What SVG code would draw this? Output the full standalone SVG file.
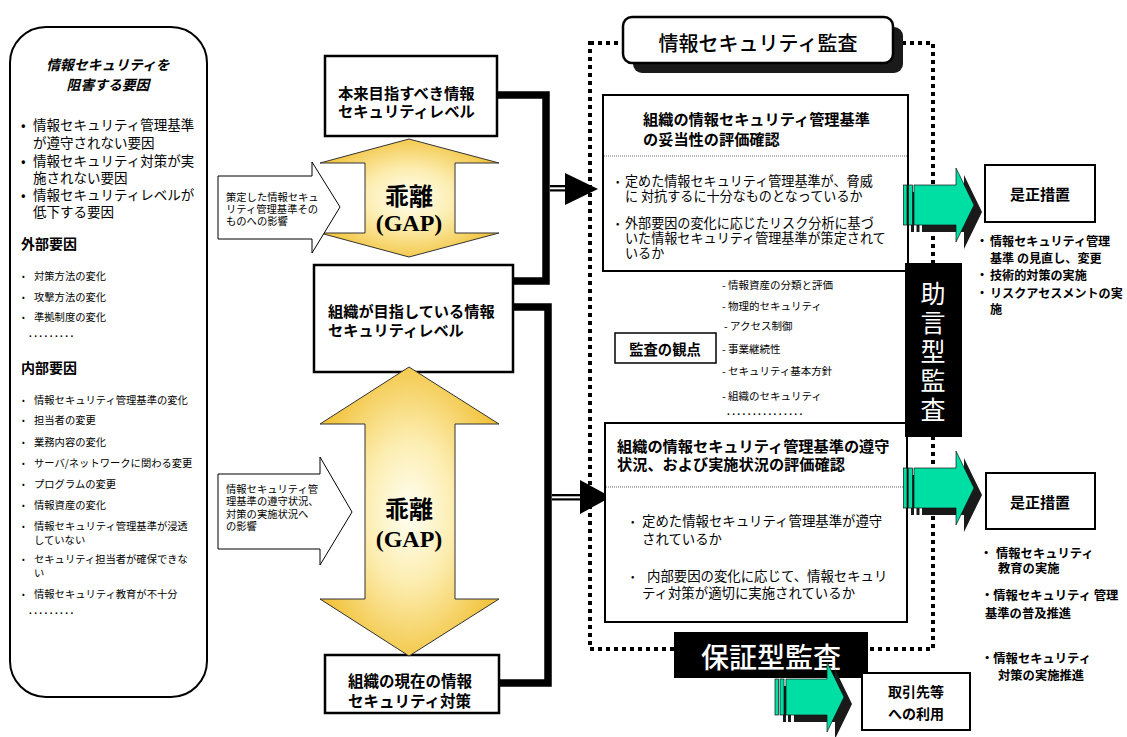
<svg xmlns="http://www.w3.org/2000/svg" width="1127" height="737" viewBox="0 0 1127 737">
<defs>
<style>
text{font-family:"Noto Sans CJK JP","Noto Sans",sans-serif;dominant-baseline:central;fill:#000}
.b{font-weight:bold}
.box{fill:#fff;stroke:#000;stroke-width:2.5}
.rbox{fill:#fff;stroke:#000;stroke-width:2}
.s10{font-size:10.3px}
.s13{font-size:13.5px}
.hd{font-size:15.2px;font-weight:bold}
.conn{fill:none;stroke:#000;stroke-width:7.5;stroke-linejoin:miter}
.sep{stroke:#666;stroke-width:1;stroke-dasharray:1 1}
.green{fill:#00DFA3;stroke:#111;stroke-width:0.7}
.shadow{fill:#1a1a1a}
.gap{font-size:24px;font-weight:bold}
.gapl{font-family:"Liberation Serif",serif;font-size:24px;font-weight:bold}
.dots{font-family:"Liberation Sans",sans-serif;font-size:10px;font-weight:bold;letter-spacing:2.4px}
.wt{fill:#fff}
</style>
<radialGradient id="yg" cx="0.5" cy="0.5" r="0.55">
<stop offset="0" stop-color="#FFFFF4"/>
<stop offset="0.45" stop-color="#FCEDB0"/>
<stop offset="1" stop-color="#F2C33C"/>
</radialGradient>
<path id="garrow" d="M0,-20 H42 V-37 L60,0 L42,37 V20 H0 Z"/>
</defs>

<!-- Left panel -->
<g id="left-panel">
<rect x="10" y="27" width="197" height="670" rx="36" ry="36" fill="#fff" stroke="#000" stroke-width="2"/>
<text class="b" x="108" y="64" font-size="13.8" font-style="italic" text-anchor="middle">情報セキュリティを</text>
<text class="b" x="108" y="84" font-size="13.8" font-style="italic" text-anchor="middle">阻害する要因</text>
<g class="s13">
<text x="21" y="124">•</text><text x="33" y="124">情報セキュリティ管理基準</text>
<text x="33" y="142">が遵守されない要因</text>
<text x="21" y="160">•</text><text x="33" y="160">情報セキュリティ対策が実</text>
<text x="33" y="177">施されない要因</text>
<text x="21" y="194">•</text><text x="33" y="194">情報セキュリティレベルが</text>
<text x="33" y="211">低下する要因</text>
</g>
<text class="b" x="21" y="243" font-size="14">外部要因</text>
<g class="s10">
<text x="22" y="275" font-size="8">•</text><text x="34" y="275">対策方法の変化</text>
<text x="22" y="296" font-size="8">•</text><text x="34" y="296">攻撃方法の変化</text>
<text x="22" y="316" font-size="8">•</text><text x="34" y="316">準拠制度の変化</text>
</g>
<text class="dots" x="29" y="333">.........</text>
<text class="b" x="21" y="367" font-size="14">内部要因</text>
<g class="s10">
<text x="22" y="399" font-size="8">•</text><text x="34" y="399">情報セキュリティ管理基準の変化</text>
<text x="22" y="419" font-size="8">•</text><text x="34" y="419">担当者の変更</text>
<text x="22" y="441" font-size="8">•</text><text x="34" y="441">業務内容の変化</text>
<text x="22" y="462" font-size="8">•</text><text x="34" y="462">サーバ/ネットワークに関わる変更</text>
<text x="22" y="483" font-size="8">•</text><text x="34" y="483">プログラムの変更</text>
<text x="22" y="504" font-size="8">•</text><text x="34" y="504">情報資産の変化</text>
<text x="22" y="525" font-size="8">•</text><text x="34" y="525">情報セキュリティ管理基準が浸透</text>
<text x="34" y="539">していない</text>
<text x="22" y="558" font-size="8">•</text><text x="34" y="558">セキュリティ担当者が確保できな</text>
<text x="34" y="572">い</text>
<text x="22" y="593" font-size="8">•</text><text x="34" y="593">情報セキュリティ教育が不十分</text>
</g>
<text class="dots" x="29" y="610">.........</text>
</g>

<!-- Right panel dotted frame -->
<g id="audit-frame">
<rect x="590" y="43" width="343" height="606" fill="none" stroke="#000" stroke-width="4" stroke-dasharray="4 4"/>
<rect x="633" y="27" width="270" height="46" rx="9" class="shadow"/>
<rect x="623" y="17" width="270" height="46" rx="9" fill="#fff" stroke="#000" stroke-width="2.5"/>
<text x="758" y="42" font-size="20" font-weight="500" text-anchor="middle">情報セキュリティ監査</text>
</g>

<!-- Connectors -->
<g id="connectors">
<polyline class="conn" points="497,95 546,95 546,281 513,281"/>
<polyline class="conn" points="513,307 548,307 548,683 499,683"/>
<rect x="550" y="185" width="17" height="6.5" fill="#000"/>
<rect x="550" y="187.3" width="17" height="2" fill="#fff"/>
<polygon points="565,173 598,189 565,205" fill="#000"/>
<rect x="552" y="494" width="30" height="6.5" fill="#000"/>
<rect x="552" y="496.3" width="30" height="2" fill="#fff"/>
<polygon points="580,480 611,497 580,514" fill="#000"/>
</g>

<!-- Center boxes -->
<g id="target-level">
<rect class="box" x="325" y="56" width="172" height="80"/>
<text class="b" x="338" y="92" font-size="15.3">本来目指すべき情報</text>
<text class="b" x="338" y="110" font-size="15.3">セキュリティレベル</text>
</g>
<g id="org-level">
<rect class="box" x="314" y="265" width="199" height="107"/>
<text class="b" x="328" y="310" font-size="15.2">組織が目指している情報</text>
<text class="b" x="328" y="329" font-size="15.2">セキュリティレベル</text>
</g>
<g id="current-measures">
<rect class="box" x="325" y="655" width="174" height="58"/>
<text class="b" x="348" y="680" font-size="15.5">組織の現在の情報</text>
<text class="b" x="348" y="700" font-size="15.5">セキュリティ対策</text>
</g>

<!-- GAP arrows -->
<g id="gap1">
<path d="M409,139 L499,163 L455,163 L455,233 L499,233 L409,257 L320,233 L365,233 L365,163 L320,163 Z" fill="url(#yg)" stroke="#333" stroke-width="1"/>
<text class="gap" x="409" y="194" text-anchor="middle">乖離</text>
<text class="gapl" x="409" y="223" text-anchor="middle">(GAP)</text>
</g>
<g id="gap2">
<path d="M409,367 L499,424 L455,424 L455,599 L499,599 L409,656 L320,599 L365,599 L365,424 L320,424 Z" fill="url(#yg)" stroke="#333" stroke-width="1"/>
<text class="gap" x="409" y="507" text-anchor="middle">乖離</text>
<text class="gapl" x="409" y="539" text-anchor="middle">(GAP)</text>
</g>

<!-- Callout arrows -->
<g id="impact1">
<path d="M218,176 L312,176 L312,162 L340,207 L312,253 L312,239 L218,239 Z" fill="#fff" stroke="#000" stroke-width="1"/>
<text class="s10" x="226" y="196">策定した情報セキュ</text>
<text class="s10" x="226" y="208">リティ管理基準その</text>
<text class="s10" x="226" y="220">ものへの影響</text>
</g>
<g id="impact2">
<path d="M218,474 L320,474 L320,457 L352,512 L320,565 L320,549 L218,549 Z" fill="#fff" stroke="#000" stroke-width="1"/>
<text class="s10" x="226" y="488">情報セキュリティ管</text>
<text class="s10" x="226" y="500">理基準の遵守状況、</text>
<text class="s10" x="226" y="513">対策の実施状況へ</text>
<text class="s10" x="226" y="525">の影響</text>
</g>

<!-- Validity evaluation box -->
<g id="validity-eval">
<rect class="rbox" x="603" y="95" width="305" height="176"/>
<text class="hd" x="643" y="118">組織の情報セキュリティ管理基準</text>
<text class="hd" x="643" y="138">の妥当性の評価確認</text>
<line class="sep" x1="604" y1="156" x2="907" y2="156"/>
<text x="616" y="180" font-size="10">•</text>
<text x="625" y="180" font-size="13.1">定めた情報セキュリティ管理基準が、脅威</text>
<text x="625" y="195" font-size="13.1">に 対抗するに十分なものとなっているか</text>
<text x="616" y="222" font-size="10">•</text>
<text x="625" y="222" font-size="13.1">外部要因の変化に応じたリスク分析に基づ</text>
<text x="625" y="237" font-size="13.1">いた情報セキュリティ管理基準が策定されて</text>
<text x="625" y="252" font-size="13.1">いるか</text>
</g>

<!-- Viewpoints -->
<g id="viewpoints">
<rect x="615" y="333" width="101" height="30" fill="#fff" stroke="#000" stroke-width="1.5"/>
<text class="b" x="665" y="348" font-size="14.3" text-anchor="middle">監査の観点</text>
<text x="722" y="284" font-size="10.5">- 情報資産の分類と評価</text>
<text x="722" y="305" font-size="10.5">- 物理的セキュリティ</text>
<text x="724" y="325" font-size="10.5">- アクセス制御</text>
<text x="722" y="348" font-size="10.5">- 事業継続性</text>
<text x="722" y="370" font-size="10.5">- セキュリティ基本方針</text>
<text x="722" y="395" font-size="10.5">- 組織のセキュリティ</text>
<text class="dots" x="727" y="411" font-weight="normal" letter-spacing="2.3">...............</text>
</g>

<!-- Compliance evaluation box -->
<g id="compliance-eval">
<rect class="rbox" x="605" y="423" width="302" height="199"/>
<text class="hd" x="617" y="445">組織の情報セキュリティ管理基準の遵守</text>
<text class="hd" x="617" y="463">状況、および実施状況の評価確認</text>
<line class="sep" x1="606" y1="487" x2="906" y2="487"/>
<text x="631" y="520" font-size="10">•</text>
<text x="642" y="520" font-size="13.4">定めた情報セキュリティ管理基準が遵守</text>
<text x="642" y="538" font-size="13.4">されているか</text>
<text x="631" y="575" font-size="10">•</text>
<text x="647" y="575" font-size="13.4">内部要因の変化に応じて、情報セキュリ</text>
<text x="642" y="592" font-size="13.4">ティ対策が適切に実施されているか</text>
</g>

<!-- Advisory audit label -->
<g id="advisory-audit">
<rect x="905" y="263" width="57" height="174" fill="#000"/>
<text class="wt" x="933" y="292" font-size="25" text-anchor="middle">助</text>
<text class="wt" x="933" y="321" font-size="25" text-anchor="middle">言</text>
<text class="wt" x="933" y="350" font-size="25" text-anchor="middle">型</text>
<text class="wt" x="933" y="379" font-size="25" text-anchor="middle">監</text>
<text class="wt" x="933" y="408" font-size="25" text-anchor="middle">査</text>
</g>

<!-- Assurance audit label -->
<g id="assurance-audit">
<rect x="674" y="632" width="194" height="46" fill="#000"/>
<text class="wt" x="771" y="656" font-size="28" font-weight="500" text-anchor="middle">保証型監査</text>
</g>

<!-- Green arrows -->
<g id="green-arrow-1">
<rect class="shadow" x="911" y="192" width="3" height="40"/>
<rect class="shadow" x="916.5" y="192" width="3" height="40"/>
<use href="#garrow" transform="translate(922,212)" class="shadow"/>
<rect class="green" x="903.5" y="185" width="3.5" height="40"/>
<rect class="green" x="908.5" y="185" width="4" height="40"/>
<use href="#garrow" transform="translate(914,205)" class="green"/>
</g>
<g id="green-arrow-2">
<rect class="shadow" x="911" y="475" width="3" height="40"/>
<rect class="shadow" x="916.5" y="475" width="3" height="40"/>
<use href="#garrow" transform="translate(922,495)" class="shadow"/>
<rect class="green" x="903.5" y="468" width="3.5" height="40"/>
<rect class="green" x="908.5" y="468" width="4" height="40"/>
<use href="#garrow" transform="translate(914,488)" class="green"/>
</g>
<g id="green-arrow-3">
<rect class="shadow" x="783" y="686" width="3" height="36"/>
<rect class="shadow" x="788" y="686" width="3" height="36"/>
<path class="shadow" d="M0,-18 H41 V-35 L58,0 L41,35 V18 H0 Z" transform="translate(794,704)"/>
<rect class="green" x="775" y="679" width="3.5" height="36"/>
<rect class="green" x="780" y="679" width="4" height="36"/>
<path class="green" d="M0,-18 H41 V-35 L58,0 L41,35 V18 H0 Z" transform="translate(786,697)"/>
</g>

<!-- Corrective measures 1 -->
<g id="corrective-1">
<rect class="rbox" x="985" y="165" width="110" height="57"/>
<text class="b" x="1040" y="193" font-size="15" text-anchor="middle">是正措置</text>
<text class="b" x="976" y="240" font-size="12.1">・</text><text class="b" x="990" y="240" font-size="12.1">情報セキュリティ管理</text>
<text class="b" x="990" y="257" font-size="12.1">基準 の見直し、変更</text>
<text class="b" x="976" y="274" font-size="12.1">・</text><text class="b" x="990" y="274" font-size="12.1">技術的対策の実施</text>
<text class="b" x="976" y="292" font-size="12.1">・</text><text class="b" x="990" y="292" font-size="12.1">リスクアセスメントの実</text>
<text class="b" x="990" y="308" font-size="12.1">施</text>
</g>

<!-- Corrective measures 2 -->
<g id="corrective-2">
<rect class="rbox" x="986" y="473" width="109" height="56"/>
<text class="b" x="1040" y="501" font-size="15" text-anchor="middle">是正措置</text>
<text class="b" x="980" y="553" font-size="12.3">・</text><text class="b" x="996" y="553" font-size="12.3">情報セキュリティ</text>
<text class="b" x="998" y="568" font-size="12.3">教育の実施</text>
<text class="b" x="981" y="595" font-size="12.3">・情報セキュリティ 管理</text>
<text class="b" x="985" y="613" font-size="12.3">基準の普及推進</text>
<text class="b" x="981" y="658" font-size="12.3">・情報セキュリティ</text>
<text class="b" x="998" y="675" font-size="12.3">対策の実施推進</text>
</g>

<!-- Business partner use -->
<g id="partner-use">
<rect class="rbox" x="862" y="673" width="108" height="57"/>
<text class="b" x="916" y="691" font-size="14" text-anchor="middle">取引先等</text>
<text class="b" x="916" y="713" font-size="14" text-anchor="middle">への利用</text>
</g>
</svg>
